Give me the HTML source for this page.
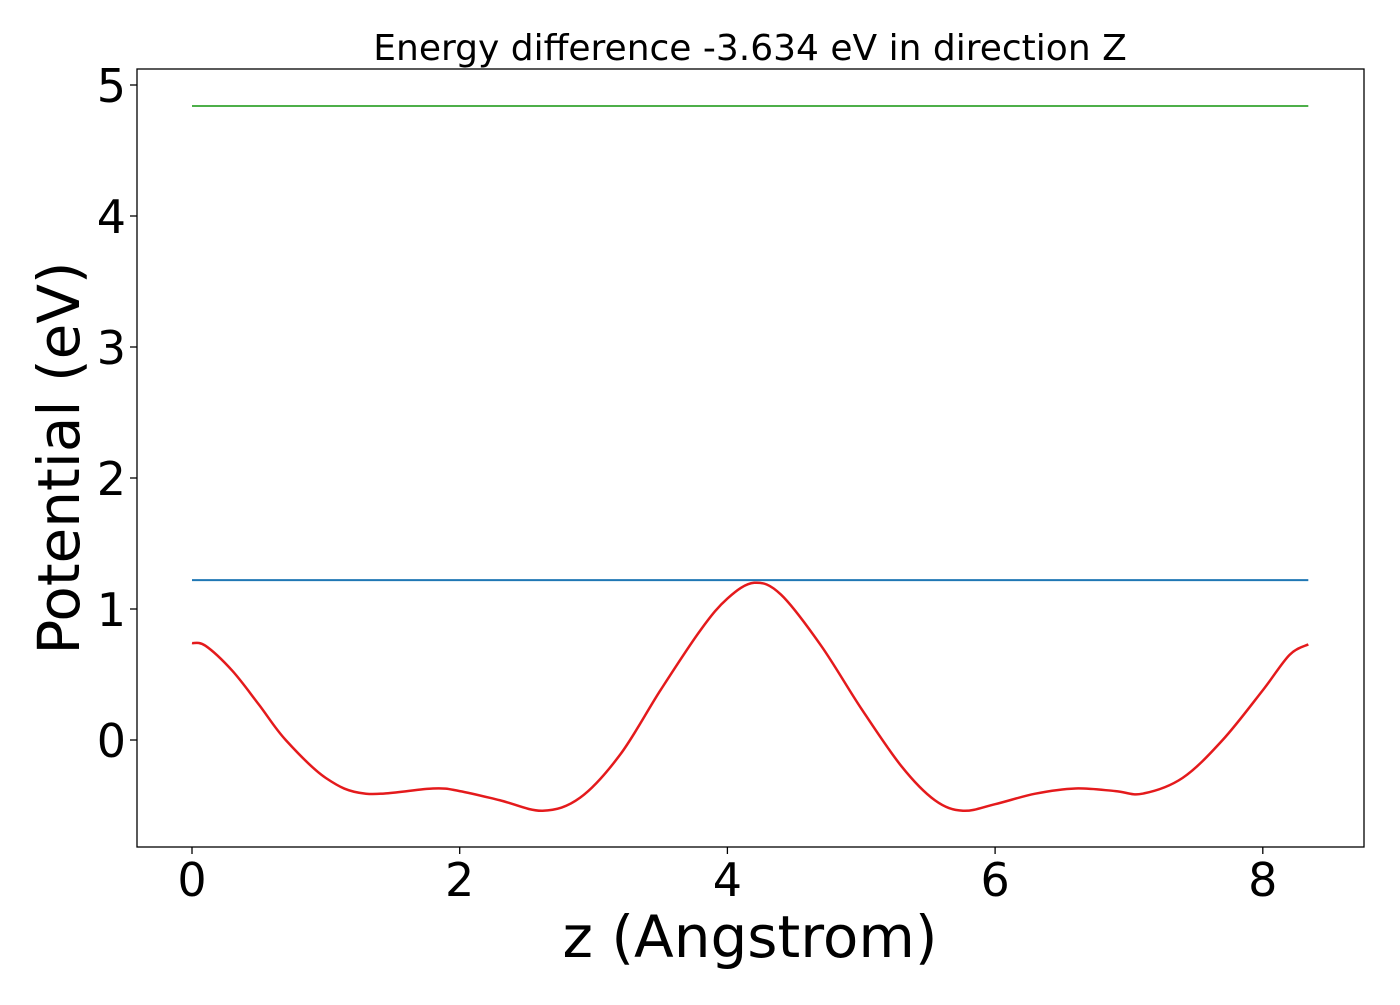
<!DOCTYPE html>
<html><head><meta charset="utf-8"><style>
body{margin:0;background:#fff;}
svg text{font-family:"DejaVu Sans","Liberation Sans",sans-serif;fill:#000;}
</style></head><body>
<svg id="chart" width="1400" height="1000" xmlns="http://www.w3.org/2000/svg">
<rect width="1400" height="1000" fill="#fff"/>
<text x="750" y="60" font-size="36" text-anchor="middle">Energy difference -3.634 eV in direction Z</text>
<g id="marks"></g>
<rect x="137" y="69" width="1227" height="778" fill="none" stroke="#000" stroke-width="1.3"/>
<g id="ticks"></g>
<text x="750" y="957" font-size="58" text-anchor="middle">z (Angstrom)</text>
<text transform="translate(79,458) rotate(-90)" font-size="58" text-anchor="middle">Potential (eV)</text>
</svg>
<script>
const zValues=[0,0.1,0.3,0.5,0.7,1.0,1.3,1.8,2.0,2.3,2.62,2.9,3.2,3.5,3.8,4.0,4.2,4.4,4.7,5.0,5.3,5.55,5.76,6.0,6.3,6.6,6.9,7.1,7.4,7.7,8.0,8.2,8.34];
const potential=[0.74,0.72,0.53,0.27,0,-0.29,-0.41,-0.37,-0.39,-0.46,-0.54,-0.44,-0.11,0.38,0.84,1.08,1.2,1.11,0.72,0.24,-0.2,-0.46,-0.54,-0.49,-0.41,-0.37,-0.39,-0.41,-0.29,0,0.38,0.65,0.73];
const greenLevel=4.84;
const blueLevel=1.22;
const xTicks=[0,2,4,6,8];
const yTicks=[0,1,2,3,4,5];
const X=v=>192+v*133.85;
const Y=v=>740-v*131;
const NS="http://www.w3.org/2000/svg";
const marks=document.getElementById('marks'), ticks=document.getElementById('ticks');
function mk(tag,attrs,parent){const e=document.createElementNS(NS,tag);for(const k in attrs)e.setAttribute(k,attrs[k]);parent.appendChild(e);return e;}
const zMin=zValues[0], zMax=zValues[zValues.length-1];
let g=mk('line',{x1:X(zMin),x2:X(zMax),y1:Y(greenLevel),y2:Y(greenLevel),stroke:'#4daf4a','stroke-width':2},marks);


let b=mk('line',{x1:X(zMin),x2:X(zMax),y1:Y(blueLevel),y2:Y(blueLevel),stroke:'#1f77b4','stroke-width':2},marks);


const pts=zValues.map((z,i)=>[X(z),Y(potential[i])]);
let d='M'+pts[0][0]+','+pts[0][1];
for(let i=0;i<pts.length-1;i++){
  const p0=pts[Math.max(0,i-1)],p1=pts[i],p2=pts[i+1],p3=pts[Math.min(pts.length-1,i+2)];
  const c1=[p1[0]+(p2[0]-p0[0])/6,p1[1]+(p2[1]-p0[1])/6];
  const c2=[p2[0]-(p3[0]-p1[0])/6,p2[1]-(p3[1]-p1[1])/6];
  d+=` C${c1[0]},${c1[1]} ${c2[0]},${c2[1]} ${p2[0]},${p2[1]}`;
}
let r=mk('path',{d:d,fill:'none',stroke:'#e41a1c','stroke-width':2.5},marks);


xTicks.forEach(t=>{
  const l=mk('line',{x1:X(t),x2:X(t),y1:847,y2:854,stroke:'#000','stroke-width':1.3},ticks);
  
  
  const tx=mk('text',{x:X(t),y:896,'font-size':46,'text-anchor':'middle'},ticks);
  tx.textContent=t;
  
  
});
yTicks.forEach(t=>{
  const l=mk('line',{x1:130,x2:137,y1:Y(t),y2:Y(t),stroke:'#000','stroke-width':1.3},ticks);
  
  
  const tx=mk('text',{x:126,y:Y(t)+17,'font-size':46,'text-anchor':'end'},ticks);
  tx.textContent=t;
  
  
});
</script>
</body></html>
